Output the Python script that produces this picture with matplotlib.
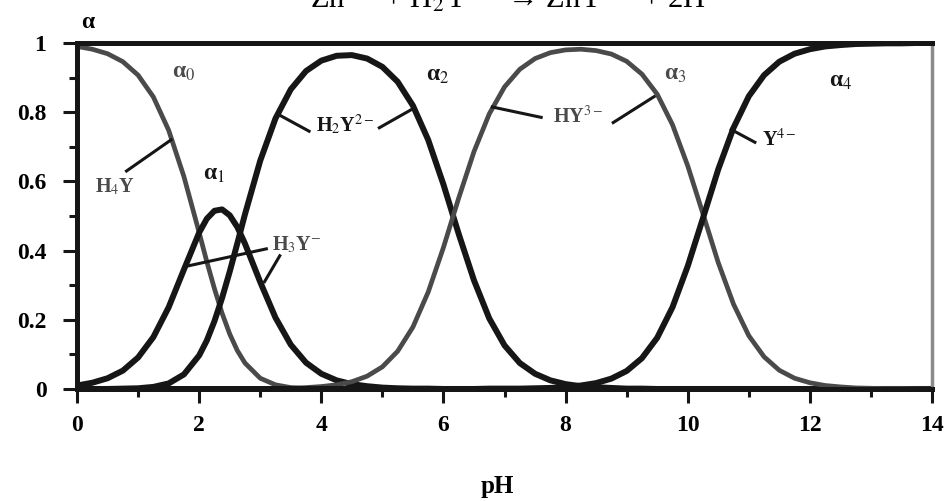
import matplotlib
matplotlib.use("Agg")
import matplotlib.pyplot as plt
from matplotlib.ticker import MultipleLocator

plt.rcParams["font.family"] = ["Liberation Serif", "DejaVu Serif"]
plt.rcParams["mathtext.fontset"] = "stix"

# pH grid and fractions
ph = [0.0, 0.25, 0.5, 0.75, 1.0, 1.25, 1.5, 1.75, 2.0, 2.125, 2.25, 2.375,
      2.5, 2.625, 2.75, 3.0, 3.25, 3.5, 3.75, 4.0, 4.25, 4.5, 4.75, 5.0,
      5.25, 5.5, 5.75, 6.0, 6.25, 6.5, 6.75, 7.0, 7.25, 7.5, 7.75, 8.0,
      8.25, 8.5, 8.75, 9.0, 9.25, 9.5, 9.75, 10.0, 10.25, 10.5, 10.75, 11.0,
      11.25, 11.5, 11.75, 12.0, 12.25, 12.5, 12.75, 13.0, 13.25, 13.5,
      13.75, 14.0]

alpha0 = [0.990, 0.982, 0.969, 0.946, 0.907, 0.844, 0.748, 0.614, 0.452,
          0.368, 0.290, 0.219, 0.159, 0.111, 0.075, 0.031, 0.012, 0.004,
          0.001, 0.000, 0.000, 0.000, 0.000, 0.000, 0.000, 0.000, 0.000,
          0.000, 0.000, 0.000, 0.000, 0.000, 0.000, 0.000, 0.000, 0.000,
          0.000, 0.000, 0.000, 0.000, 0.000, 0.000, 0.000, 0.000, 0.000,
          0.000, 0.000, 0.000, 0.000, 0.000, 0.000, 0.000, 0.000, 0.000,
          0.000, 0.000, 0.000, 0.000, 0.000, 0.000]
alpha1 = [0.010, 0.018, 0.031, 0.053, 0.091, 0.150, 0.236, 0.345, 0.452,
          0.492, 0.515, 0.519, 0.502, 0.468, 0.420, 0.309, 0.206, 0.128,
          0.076, 0.044, 0.025, 0.014, 0.008, 0.004, 0.002, 0.001, 0.001,
          0.000, 0.000, 0.000, 0.000, 0.000, 0.000, 0.000, 0.000, 0.000,
          0.000, 0.000, 0.000, 0.000, 0.000, 0.000, 0.000, 0.000, 0.000,
          0.000, 0.000, 0.000, 0.000, 0.000, 0.000, 0.000, 0.000, 0.000,
          0.000, 0.000, 0.000, 0.000, 0.000, 0.000]
alpha2 = [0.000, 0.000, 0.000, 0.001, 0.002, 0.006, 0.016, 0.042, 0.097,
          0.140, 0.196, 0.263, 0.339, 0.421, 0.505, 0.660, 0.782, 0.866,
          0.919, 0.949, 0.963, 0.965, 0.955, 0.931, 0.888, 0.819, 0.720,
          0.591, 0.448, 0.314, 0.204, 0.126, 0.075, 0.044, 0.025, 0.014,
          0.008, 0.005, 0.003, 0.001, 0.001, 0.000, 0.000, 0.000, 0.000,
          0.000, 0.000, 0.000, 0.000, 0.000, 0.000, 0.000, 0.000, 0.000,
          0.000, 0.000, 0.000, 0.000, 0.000, 0.000]
alpha3 = [0.000, 0.000, 0.000, 0.000, 0.000, 0.000, 0.000, 0.000, 0.000,
          0.000, 0.000, 0.000, 0.000, 0.000, 0.000, 0.000, 0.001, 0.002,
          0.004, 0.007, 0.012, 0.021, 0.037, 0.064, 0.109, 0.179, 0.280,
          0.409, 0.552, 0.686, 0.795, 0.873, 0.924, 0.955, 0.972, 0.980,
          0.982, 0.978, 0.968, 0.947, 0.910, 0.852, 0.764, 0.645, 0.506,
          0.365, 0.245, 0.154, 0.093, 0.054, 0.031, 0.018, 0.010, 0.006,
          0.003, 0.002, 0.001, 0.001, 0.000, 0.000]
alpha4 = [0.000, 0.000, 0.000, 0.000, 0.000, 0.000, 0.000, 0.000, 0.000,
          0.000, 0.000, 0.000, 0.000, 0.000, 0.000, 0.000, 0.000, 0.000,
          0.000, 0.000, 0.000, 0.000, 0.000, 0.000, 0.000, 0.000, 0.000,
          0.000, 0.000, 0.000, 0.001, 0.001, 0.001, 0.002, 0.003, 0.005,
          0.010, 0.017, 0.030, 0.052, 0.089, 0.148, 0.236, 0.355, 0.494,
          0.635, 0.755, 0.846, 0.907, 0.946, 0.969, 0.982, 0.990, 0.994,
          0.997, 0.998, 0.999, 0.999, 1.000, 1.000]

GREY = "#4a4a4a"
BLACK = "#161616"

series = [alpha0, alpha1, alpha2, alpha3, alpha4]
colors = [GREY, BLACK, BLACK, GREY, BLACK]
widths = [3.4, 4.3, 4.3, 3.4, 4.3]

# curve names and where they sit
alpha_subs = ["0", "1", "2", "3", "4"]
alpha_pos = [(1.75, 0.915), (2.25, 0.62), (5.9, 0.905), (9.8, 0.91), (12.5, 0.89)]
alpha_colors = [GREY, BLACK, BLACK, GREY, BLACK]

# species labels with their leader lines
species = [r"H$_4$Y", r"H$_3$Y$^{-}$", r"H$_2$Y$^{2-}$", r"HY$^{3-}$", r"Y$^{4-}$"]
species_pos = [(0.62, 0.585), (3.6, 0.415), (4.4, 0.765), (8.2, 0.785), (11.5, 0.72)]
species_colors = [GREY, GREY, BLACK, GREY, BLACK]
leaders = [
    [((1.54, 0.72), (0.81, 0.63))],
    [((1.8, 0.355), (3.1, 0.405)), ((3.32, 0.385), (3.07, 0.31))],
    [((3.28, 0.795), (3.8, 0.745)), ((4.95, 0.755), (5.5, 0.81))],
    [((6.8, 0.815), (7.6, 0.785)), ((8.78, 0.77), (9.45, 0.845))],
    [((10.71, 0.75), (11.1, 0.713))],
]

fig = plt.figure(figsize=(9.44, 5.01), dpi=100)
ax = fig.add_axes([0.0816, 0.2236, 0.9057, 0.6906])

for ys, c, lw in zip(series, colors, widths):
    ax.plot(ph, ys, color=c, linewidth=lw, solid_capstyle="butt",
            solid_joinstyle="round", zorder=2)

for sub, (x, y), c in zip(alpha_subs, alpha_pos, alpha_colors):
    ax.text(x, y, "α$_{" + sub + "}$", color=c, fontsize=17,
            fontweight="bold", ha="center", va="center")

for lab, (x, y), c, segs in zip(species, species_pos, species_colors, leaders):
    ax.text(x, y, lab, color=c, fontsize=14.5, fontweight="bold",
            ha="center", va="center")
    for (x0, y0), (x1, y1) in segs:
        ax.plot([x0, x1], [y0, y1], color=BLACK, linewidth=2.2, zorder=3)

ax.set_xlim(0, 14)
ax.set_ylim(0, 1)
ax.xaxis.set_major_locator(MultipleLocator(2))
ax.xaxis.set_minor_locator(MultipleLocator(1))
ax.yaxis.set_major_locator(MultipleLocator(0.2))
ax.yaxis.set_minor_locator(MultipleLocator(0.1))
ax.xaxis.set_major_formatter(plt.FuncFormatter(lambda v, p: f"{v:g}"))
ax.yaxis.set_major_formatter(plt.FuncFormatter(lambda v, p: f"{v:g}"))

ax.tick_params(which="major", direction="out", length=10, width=2.2,
               labelsize=17, color=BLACK)
ax.tick_params(axis="x", which="major", pad=9)
ax.tick_params(axis="y", which="major", pad=12)
ax.tick_params(which="minor", direction="out", length=6, width=2.2, color=BLACK)
ax.tick_params(top=False, right=False)
for lbl in ax.get_xticklabels() + ax.get_yticklabels():
    lbl.set_fontweight("bold")

for side in ["left", "bottom", "top"]:
    ax.spines[side].set_linewidth(3.6)
    ax.spines[side].set_color(BLACK)
ax.spines["right"].set_linewidth(2.5)
ax.spines["right"].set_color("#8a8a8a")

ax.set_xlabel("pH", fontsize=18, fontweight="bold")
ax.xaxis.set_label_coords(0.491, -0.25)
ax.text(0.17, 1.06, "α", fontsize=17, fontweight="bold",
        ha="center", va="center", clip_on=False)

fig.text(0.546, 1 - 8 / 501,
         r"Zn$^{2+}$ + H$_2$Y$^{2-}$ → ZnY$^{2-}$ + 2H$^{+}$",
         fontsize=22, ha="center", va="baseline")

fig.savefig("out.png", dpi=100, facecolor="white")
